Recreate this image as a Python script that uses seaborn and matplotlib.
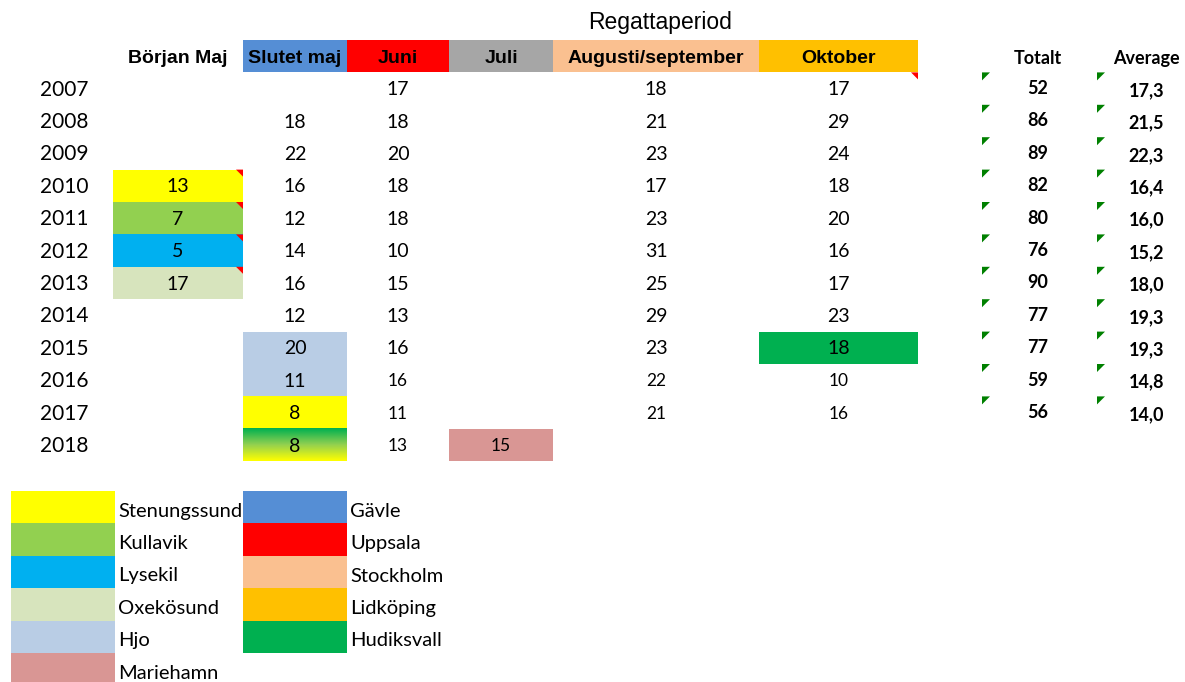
import matplotlib.pyplot as plt
import numpy as np
import pandas as pd
import seaborn as sns
from matplotlib.colors import ListedColormap, LinearSegmentedColormap

# ---- data ----
years = [2007, 2008, 2009, 2010, 2011, 2012, 2013, 2014, 2015, 2016, 2017, 2018]
periods = ["Början Maj", "Slutet maj", "Juni", "Juli", "Augusti/september", "Oktober"]

borjan_maj = [np.nan, np.nan, np.nan, 13, 7, 5, 17, np.nan, np.nan, np.nan, np.nan, np.nan]
slutet_maj = [np.nan, 18, 22, 16, 12, 14, 16, 12, 20, 11, 8, 8]
juni = [17, 18, 20, 18, 18, 10, 15, 13, 16, 16, 11, 13]
juli = [np.nan] * 11 + [15]
aug_sep = [18, 21, 23, 17, 23, 31, 25, 29, 23, 22, 21, np.nan]
oktober = [17, 29, 24, 18, 20, 16, 17, 23, 18, 10, 16, np.nan]

totalt = [52, 86, 89, 82, 80, 76, 90, 77, 77, 59, 56]
average = [17.3, 21.5, 22.3, 16.4, 16.0, 15.2, 18.0, 19.3, 19.3, 14.8, 14.0]

venues = ["Stenungssund", "Kullavik", "Lysekil", "Oxekösund", "Hjo", "Mariehamn",
          "Gävle", "Uppsala", "Stockholm", "Lidköping", "Hudiksvall"]
venue_colors = ["#FFFF00", "#92D050", "#00B0F0", "#D7E4BD", "#B9CDE5", "#D99694",
                "#558ED5", "#FF0000", "#FAC090", "#FFC000", "#00B050"]

# which venue each header / cell was sailed at (None = no colour)
header_venue = [None, "Gävle", "Uppsala", "Okänd", "Stockholm", "Lidköping"]
cell_venue = {
    "Början Maj": [None, None, None, "Stenungssund", "Kullavik", "Lysekil", "Oxekösund",
                   None, None, None, None, None],
    "Slutet maj": [None] * 8 + ["Hjo", "Hjo", "Stenungssund", "Hudiksvall/Stenungssund"],
    "Juni": [None] * 12,
    "Juli": [None] * 11 + ["Mariehamn"],
    "Augusti/september": [None] * 12,
    "Oktober": [None] * 8 + ["Hudiksvall"] + [None] * 3,
}
comment_cells = [("Början Maj", 2010), ("Början Maj", 2011), ("Början Maj", 2012),
                 ("Början Maj", 2013), ("Oktober", 2007)]
small_font_years = [2016, 2017, 2018]
small_font_periods = ["Juni", "Juli", "Augusti/september", "Oktober"]

values = dict(zip(periods, [borjan_maj, slutet_maj, juni, juli, aug_sep, oktober]))

# ---- layout (pixels) ----
W, H = 1185, 682
col_edges = [113, 243, 347, 449, 553, 759, 918]
top, row_h = 40, 32.4
n_rows = len(years) + 1
year_x = 64
tot_edges = [982, 1097, 1198]

sns.set_theme(style="white")
plt.rcParams["text.color"] = "black"
num_font = ["Lato", "DejaVu Sans"]
head_font = ["Liberation Sans", "DejaVu Sans"]
cal_font = ["Lato", "DejaVu Sans"]

palette = venue_colors + ["#A6A6A6"]
code_of = {v: i for i, v in enumerate(venues)}
code_of["Okänd"] = len(venues)
cmap = ListedColormap(palette)

fig = plt.figure(figsize=(W / 100, H / 100), dpi=100)

grad_cmap = LinearSegmentedColormap.from_list("grad", ["#00B050", "#92D050", "#FFFF00"])

for j, name in enumerate(periods):
    x0, x1 = col_edges[j], col_edges[j + 1]
    ax = fig.add_axes([x0 / W, 1 - (top + n_rows * row_h) / H, (x1 - x0) / W, n_rows * row_h / H])
    codes = [header_venue[j]] + cell_venue[name]
    col = [code_of.get(v, np.nan) if v else np.nan for v in codes]
    df = pd.DataFrame({name: col}, dtype=float)
    sns.heatmap(df, ax=ax, cmap=cmap, vmin=-0.5, vmax=len(palette) - 0.5,
                mask=df.isna(), cbar=False, xticklabels=False, yticklabels=False)
    for r, v in enumerate(codes):
        if v and "/" in v:
            grad = np.linspace(0, 1, 64).reshape(-1, 1)
            ax.imshow(grad, cmap=grad_cmap, extent=[0, 1, r + 1, r], aspect="auto", zorder=2)
    ax.set_xlim(0, 1)
    ax.set_ylim(n_rows, 0)

ov = fig.add_axes([0, 0, 1, 1])
ov.set_xlim(0, W)
ov.set_ylim(H, 0)
ov.axis("off")


def row_y(r):
    return top + row_h * (r + 0.5)


# title + headers
ov.text(660, 22, "Regattaperiod", ha="center", va="center", fontsize=16.5,
        family=["Liberation Sans", "DejaVu Sans"])
for j, name in enumerate(periods):
    cx = (col_edges[j] + col_edges[j + 1]) / 2
    ov.text(cx, row_y(0) + 2, name, ha="center", va="center", fontsize=14,
            fontweight="bold", family=head_font)
ov.text(sum(tot_edges[:2]) / 2 - 2, row_y(0) + 2, "Totalt", ha="center", va="center",
        fontsize=13, fontweight="bold", family=cal_font)
ov.text(sum(tot_edges[1:]) / 2 - 1, row_y(0) + 2, "Average", ha="center", va="center",
        fontsize=13, fontweight="bold", family=cal_font)

# body
for i, yr in enumerate(years):
    y = row_y(i + 1)
    ov.text(year_x, y + 1, str(yr), ha="center", va="center", fontsize=15, family=num_font)
    for j, name in enumerate(periods):
        v = values[name][i]
        if np.isnan(v):
            continue
        cx = (col_edges[j] + col_edges[j + 1]) / 2
        small = yr in small_font_years and name in small_font_periods
        ov.text(cx, y + 1, f"{int(v)}", ha="center", va="center",
                fontsize=12.5 if small else 14, family=num_font)
    if i < len(totalt):
        ov.text(sum(tot_edges[:2]) / 2 - 2, y, str(totalt[i]), ha="center", va="center",
                fontsize=13, fontweight="bold", family=cal_font)
        ov.text(sum(tot_edges[1:]) / 2 - 1, y + 2, f"{average[i]:.1f}".replace(".", ","),
                ha="center", va="center", fontsize=13, fontweight="bold", family=cal_font)
        yt = top + row_h * (i + 1)
        for xe in tot_edges[:2]:
            ov.fill([xe, xe + 8, xe], [yt, yt, yt + 8], color="#008000", lw=0)

# comment markers
for name, yr in comment_cells:
    xr = col_edges[periods.index(name) + 1]
    yt = top + row_h * (years.index(yr) + 1)
    ov.fill([xr, xr - 7, xr], [yt, yt, yt + 7], color="#FF0000", lw=0)

# legend
leg_top, leg_h = 491, 32.4
leg_cols = [(11, 115, 118), (243, 347, 350)]
per_col = 6
for k, (venue, color) in enumerate(zip(venues, venue_colors)):
    c, r = divmod(k, per_col)
    x0, x1, tx = leg_cols[c]
    y0 = leg_top + r * leg_h
    ov.add_patch(plt.Rectangle((x0, y0), x1 - x0, leg_h, color=color, lw=0))
    ov.text(tx, y0 + leg_h / 2 + 4, venue, ha="left", va="center", fontsize=14.5, family=cal_font)

fig.savefig("out.png", dpi=100)
